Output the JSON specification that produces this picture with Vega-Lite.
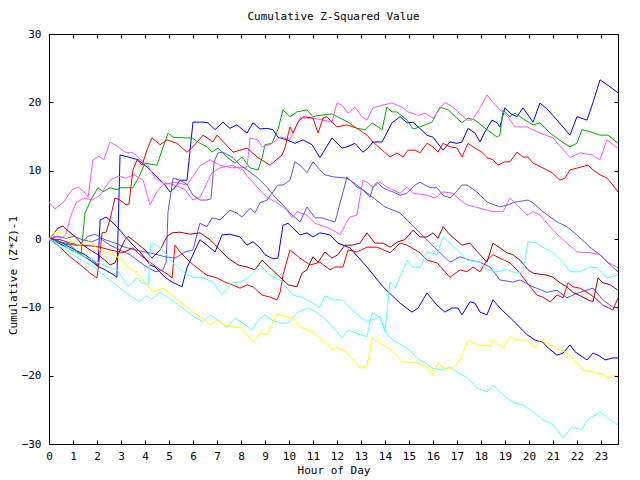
{
"$schema": "https://vega.github.io/schema/vega-lite/v6.json",
"width": 569, "height": 410,
"autosize": {"type": "none"},
"padding": {"left": 49, "top": 34, "right": 22, "bottom": 36},
"background": "white",
"title": {"text": "Cumulative Z-Squared Value", "font": "DejaVu Sans Mono", "fontSize": 11, "fontWeight": "normal", "color": "#000", "anchor": "middle", "baseline": "alphabetic", "offset": -3},
"config": {
 "view": {"stroke": "#000", "strokeWidth": 1},
 "axis": {"labelFont": "DejaVu Sans Mono", "titleFont": "DejaVu Sans Mono", "labelFontSize": 11, "titleFontSize": 11, "titleFontWeight": "normal", "labelColor": "#000", "titleColor": "#000", "tickColor": "#000", "tickWidth": 1, "grid": false, "domain": false, "labelOverlap": false, "labelFlush": false}
},
"datasets": {
 "frame": [{"h": 0, "v": 0}],
 "walks": [
{"s":"B1","h":0,"v":0},{"s":"B1","h":0.46,"v":-0.7},{"s":"B1","h":0.88,"v":-1.5},{"s":"B1","h":1.29,"v":-2.2},{"s":"B1","h":1.71,"v":-3.1},{"s":"B1","h":2.04,"v":-4.0},{"s":"B1","h":2.33,"v":-4.5},{"s":"B1","h":2.63,"v":-5.1},{"s":"B1","h":2.83,"v":-5.6},{"s":"B1","h":2.96,"v":12.3},{"s":"B1","h":3.29,"v":12.0},{"s":"B1","h":3.71,"v":11.6},{"s":"B1","h":4.13,"v":10.4},{"s":"B1","h":4.54,"v":8.9},{"s":"B1","h":4.83,"v":7.9},{"s":"B1","h":5.04,"v":6.9},{"s":"B1","h":5.25,"v":7.5},{"s":"B1","h":5.46,"v":8.6},{"s":"B1","h":5.75,"v":8.6},{"s":"B1","h":6.0,"v":17.1},{"s":"B1","h":6.42,"v":17.1},{"s":"B1","h":6.63,"v":17.0},{"s":"B1","h":6.92,"v":16.0},{"s":"B1","h":7.25,"v":17.1},{"s":"B1","h":7.54,"v":16.2},{"s":"B1","h":7.83,"v":16.7},{"s":"B1","h":8.25,"v":15.5},{"s":"B1","h":8.5,"v":17.0},{"s":"B1","h":8.79,"v":16.1},{"s":"B1","h":9.08,"v":16.2},{"s":"B1","h":9.33,"v":16.0},{"s":"B1","h":9.54,"v":14.9},{"s":"B1","h":9.92,"v":14.5},{"s":"B1","h":10.25,"v":14.0},{"s":"B1","h":10.58,"v":14.5},{"s":"B1","h":10.96,"v":13.8},{"s":"B1","h":11.29,"v":11.9},{"s":"B1","h":11.79,"v":14.8},{"s":"B1","h":12.21,"v":13.3},{"s":"B1","h":12.42,"v":13.5},{"s":"B1","h":12.75,"v":14.0},{"s":"B1","h":13.08,"v":12.7},{"s":"B1","h":13.29,"v":13.3},{"s":"B1","h":13.5,"v":14.2},{"s":"B1","h":13.88,"v":14.2},{"s":"B1","h":14.29,"v":17.0},{"s":"B1","h":14.63,"v":17.9},{"s":"B1","h":14.92,"v":17.0},{"s":"B1","h":15.17,"v":17.1},{"s":"B1","h":15.75,"v":15.2},{"s":"B1","h":16.0,"v":14.9},{"s":"B1","h":16.42,"v":13.0},{"s":"B1","h":16.71,"v":14.2},{"s":"B1","h":17.0,"v":14.0},{"s":"B1","h":17.21,"v":14.2},{"s":"B1","h":17.46,"v":16.2},{"s":"B1","h":17.75,"v":15.5},{"s":"B1","h":17.96,"v":14.2},{"s":"B1","h":18.17,"v":15.7},{"s":"B1","h":18.46,"v":17.4},{"s":"B1","h":18.67,"v":17.0},{"s":"B1","h":18.79,"v":16.4},{"s":"B1","h":19.0,"v":19.2},{"s":"B1","h":19.21,"v":18.4},{"s":"B1","h":19.5,"v":17.9},{"s":"B1","h":19.75,"v":19.2},{"s":"B1","h":20.17,"v":17.1},{"s":"B1","h":20.46,"v":19.9},{"s":"B1","h":20.79,"v":18.9},{"s":"B1","h":21.17,"v":17.4},{"s":"B1","h":21.71,"v":15.2},{"s":"B1","h":22.0,"v":17.9},{"s":"B1","h":22.42,"v":17.4},{"s":"B1","h":22.67,"v":20.0},{"s":"B1","h":22.96,"v":23.3},{"s":"B1","h":23.29,"v":22.5},{"s":"B1","h":23.71,"v":21.4},
{"s":"B2","h":0,"v":0.3},{"s":"B2","h":0.38,"v":-0.3},{"s":"B2","h":0.71,"v":-0.9},{"s":"B2","h":1.08,"v":-1.6},{"s":"B2","h":1.5,"v":-2.3},{"s":"B2","h":1.92,"v":-3.4},{"s":"B2","h":2.04,"v":-4.0},{"s":"B2","h":2.13,"v":2.8},{"s":"B2","h":2.38,"v":3.2},{"s":"B2","h":2.63,"v":2.5},{"s":"B2","h":2.88,"v":1.6},{"s":"B2","h":3.17,"v":0.4},{"s":"B2","h":3.5,"v":-0.9},{"s":"B2","h":3.79,"v":-1.9},{"s":"B2","h":4.0,"v":-2.8},{"s":"B2","h":4.21,"v":-3.8},{"s":"B2","h":4.42,"v":-4.1},{"s":"B2","h":4.83,"v":-5.6},{"s":"B2","h":5.13,"v":-6.3},{"s":"B2","h":5.54,"v":-7.0},{"s":"B2","h":5.75,"v":-4.2},{"s":"B2","h":6.29,"v":-0.1},{"s":"B2","h":6.58,"v":-0.9},{"s":"B2","h":6.92,"v":-1.9},{"s":"B2","h":7.21,"v":0.6},{"s":"B2","h":7.54,"v":0.7},{"s":"B2","h":7.96,"v":0.3},{"s":"B2","h":8.25,"v":-0.9},{"s":"B2","h":8.5,"v":-0.4},{"s":"B2","h":8.79,"v":-1.3},{"s":"B2","h":9.0,"v":-2.3},{"s":"B2","h":9.33,"v":-2.9},{"s":"B2","h":9.54,"v":-2.8},{"s":"B2","h":9.75,"v":2.0},{"s":"B2","h":9.96,"v":2.3},{"s":"B2","h":10.46,"v":0.6},{"s":"B2","h":10.75,"v":0.9},{"s":"B2","h":11.0,"v":0.3},{"s":"B2","h":11.29,"v":0.9},{"s":"B2","h":11.71,"v":0.6},{"s":"B2","h":12.04,"v":-0.6},{"s":"B2","h":12.54,"v":-1.3},{"s":"B2","h":13.25,"v":-4.1},{"s":"B2","h":13.92,"v":-7.0},{"s":"B2","h":14.63,"v":-9.4},{"s":"B2","h":15.13,"v":-10.7},{"s":"B2","h":15.38,"v":-10.1},{"s":"B2","h":15.75,"v":-7.9},{"s":"B2","h":16.17,"v":-9.7},{"s":"B2","h":16.5,"v":-10.7},{"s":"B2","h":16.79,"v":-10.1},{"s":"B2","h":17.04,"v":-10.1},{"s":"B2","h":17.21,"v":-11.1},{"s":"B2","h":17.54,"v":-9.2},{"s":"B2","h":17.75,"v":-9.4},{"s":"B2","h":17.96,"v":-10.7},{"s":"B2","h":18.25,"v":-11.1},{"s":"B2","h":18.5,"v":-8.9},{"s":"B2","h":18.79,"v":-10.1},{"s":"B2","h":19.33,"v":-11.9},{"s":"B2","h":19.92,"v":-14.0},{"s":"B2","h":20.25,"v":-14.8},{"s":"B2","h":20.58,"v":-15.1},{"s":"B2","h":20.75,"v":-15.8},{"s":"B2","h":21.17,"v":-17.0},{"s":"B2","h":21.42,"v":-16.7},{"s":"B2","h":21.71,"v":-15.5},{"s":"B2","h":21.92,"v":-16.5},{"s":"B2","h":22.42,"v":-17.7},{"s":"B2","h":22.67,"v":-16.7},{"s":"B2","h":22.88,"v":-17.0},{"s":"B2","h":23.17,"v":-17.7},{"s":"B2","h":23.5,"v":-17.4},{"s":"B2","h":23.71,"v":-17.4},
{"s":"G","h":0,"v":0},{"s":"G","h":0.25,"v":-0.3},{"s":"G","h":0.54,"v":-0.6},{"s":"G","h":0.88,"v":-0.9},{"s":"G","h":1.21,"v":-1.9},{"s":"G","h":1.33,"v":-2.3},{"s":"G","h":1.5,"v":3.8},{"s":"G","h":1.79,"v":6.0},{"s":"G","h":2.04,"v":7.5},{"s":"G","h":2.25,"v":6.9},{"s":"G","h":2.54,"v":7.5},{"s":"G","h":2.83,"v":7.2},{"s":"G","h":2.96,"v":7.5},{"s":"G","h":3.5,"v":7.5},{"s":"G","h":3.79,"v":9.4},{"s":"G","h":4.0,"v":11.1},{"s":"G","h":4.5,"v":10.8},{"s":"G","h":4.71,"v":13.0},{"s":"G","h":4.96,"v":15.5},{"s":"G","h":5.17,"v":14.9},{"s":"G","h":5.67,"v":14.8},{"s":"G","h":5.96,"v":14.8},{"s":"G","h":6.29,"v":14.0},{"s":"G","h":6.58,"v":13.5},{"s":"G","h":6.79,"v":12.7},{"s":"G","h":7.04,"v":13.3},{"s":"G","h":7.42,"v":12.0},{"s":"G","h":7.75,"v":11.1},{"s":"G","h":8.04,"v":12.0},{"s":"G","h":8.38,"v":10.4},{"s":"G","h":8.71,"v":10.1},{"s":"G","h":8.88,"v":11.9},{"s":"G","h":9.0,"v":13.8},{"s":"G","h":9.29,"v":14.0},{"s":"G","h":9.54,"v":16.0},{"s":"G","h":9.75,"v":18.9},{"s":"G","h":10.04,"v":17.9},{"s":"G","h":10.33,"v":18.6},{"s":"G","h":10.75,"v":18.9},{"s":"G","h":11.0,"v":17.9},{"s":"G","h":11.29,"v":18.1},{"s":"G","h":11.79,"v":18.3},{"s":"G","h":12.13,"v":17.7},{"s":"G","h":12.46,"v":17.1},{"s":"G","h":12.83,"v":16.2},{"s":"G","h":13.17,"v":16.0},{"s":"G","h":13.46,"v":17.0},{"s":"G","h":13.88,"v":16.0},{"s":"G","h":14.08,"v":19.3},{"s":"G","h":14.29,"v":18.6},{"s":"G","h":14.5,"v":18.6},{"s":"G","h":14.92,"v":17.4},{"s":"G","h":15.17,"v":16.1},{"s":"G","h":15.46,"v":16.4},{"s":"G","h":15.96,"v":17.1},{"s":"G","h":16.29,"v":19.3},{"s":"G","h":16.63,"v":18.9},{"s":"G","h":17.21,"v":17.0},{"s":"G","h":17.46,"v":17.7},{"s":"G","h":17.75,"v":17.4},{"s":"G","h":18.25,"v":16.0},{"s":"G","h":18.67,"v":14.9},{"s":"G","h":18.79,"v":15.2},{"s":"G","h":18.92,"v":18.9},{"s":"G","h":19.21,"v":17.9},{"s":"G","h":19.42,"v":18.4},{"s":"G","h":19.71,"v":17.7},{"s":"G","h":20.17,"v":16.7},{"s":"G","h":20.46,"v":17.0},{"s":"G","h":20.88,"v":15.5},{"s":"G","h":21.38,"v":14.2},{"s":"G","h":21.71,"v":13.5},{"s":"G","h":22.0,"v":14.0},{"s":"G","h":22.21,"v":16.0},{"s":"G","h":22.54,"v":15.7},{"s":"G","h":22.96,"v":15.2},{"s":"G","h":23.29,"v":15.2},{"s":"G","h":23.71,"v":14.0},
{"s":"M1","h":0,"v":5.4},{"s":"M1","h":0.25,"v":4.4},{"s":"M1","h":0.58,"v":5.3},{"s":"M1","h":0.96,"v":7.2},{"s":"M1","h":1.21,"v":7.6},{"s":"M1","h":1.46,"v":6.9},{"s":"M1","h":1.63,"v":6.1},{"s":"M1","h":1.83,"v":11.6},{"s":"M1","h":2.08,"v":12.1},{"s":"M1","h":2.29,"v":11.6},{"s":"M1","h":2.54,"v":14.2},{"s":"M1","h":2.88,"v":13.5},{"s":"M1","h":3.17,"v":12.7},{"s":"M1","h":3.5,"v":12.6},{"s":"M1","h":3.83,"v":11.6},{"s":"M1","h":4.13,"v":10.7},{"s":"M1","h":4.42,"v":8.9},{"s":"M1","h":4.83,"v":8.0},{"s":"M1","h":5.25,"v":8.3},{"s":"M1","h":5.75,"v":7.9},{"s":"M1","h":6.29,"v":10.7},{"s":"M1","h":6.71,"v":11.6},{"s":"M1","h":7.13,"v":10.8},{"s":"M1","h":7.63,"v":10.4},{"s":"M1","h":7.96,"v":10.5},{"s":"M1","h":8.25,"v":10.5},{"s":"M1","h":8.38,"v":14.8},{"s":"M1","h":8.71,"v":14.5},{"s":"M1","h":8.88,"v":13.5},{"s":"M1","h":9.21,"v":13.8},{"s":"M1","h":9.63,"v":14.9},{"s":"M1","h":10.04,"v":14.6},{"s":"M1","h":10.46,"v":17.7},{"s":"M1","h":11.0,"v":17.7},{"s":"M1","h":11.42,"v":17.4},{"s":"M1","h":11.79,"v":17.1},{"s":"M1","h":12.0,"v":19.9},{"s":"M1","h":12.21,"v":19.6},{"s":"M1","h":12.46,"v":18.4},{"s":"M1","h":12.75,"v":19.3},{"s":"M1","h":13.04,"v":17.9},{"s":"M1","h":13.25,"v":17.4},{"s":"M1","h":13.5,"v":19.2},{"s":"M1","h":13.92,"v":19.6},{"s":"M1","h":14.29,"v":19.9},{"s":"M1","h":14.71,"v":19.3},{"s":"M1","h":14.96,"v":18.6},{"s":"M1","h":15.38,"v":18.1},{"s":"M1","h":15.67,"v":18.4},{"s":"M1","h":16.0,"v":17.7},{"s":"M1","h":16.5,"v":20.0},{"s":"M1","h":16.83,"v":19.3},{"s":"M1","h":17.42,"v":17.4},{"s":"M1","h":17.63,"v":17.4},{"s":"M1","h":18.04,"v":19.6},{"s":"M1","h":18.25,"v":21.1},{"s":"M1","h":18.5,"v":20.0},{"s":"M1","h":18.79,"v":18.9},{"s":"M1","h":19.08,"v":18.1},{"s":"M1","h":19.42,"v":16.4},{"s":"M1","h":19.92,"v":16.4},{"s":"M1","h":20.46,"v":15.5},{"s":"M1","h":21.0,"v":14.8},{"s":"M1","h":21.71,"v":11.9},{"s":"M1","h":22.13,"v":12.6},{"s":"M1","h":22.63,"v":12.3},{"s":"M1","h":22.96,"v":11.6},{"s":"M1","h":23.25,"v":14.5},{"s":"M1","h":23.5,"v":13.8},{"s":"M1","h":23.71,"v":13.3},
{"s":"M2","h":0,"v":0},{"s":"M2","h":0.25,"v":0.4},{"s":"M2","h":0.54,"v":0.1},{"s":"M2","h":0.71,"v":0.7},{"s":"M2","h":0.88,"v":3.1},{"s":"M2","h":1.13,"v":5.3},{"s":"M2","h":1.46,"v":6.0},{"s":"M2","h":1.79,"v":5.7},{"s":"M2","h":2.13,"v":6.4},{"s":"M2","h":2.54,"v":8.6},{"s":"M2","h":2.88,"v":9.2},{"s":"M2","h":3.21,"v":8.9},{"s":"M2","h":3.54,"v":9.4},{"s":"M2","h":3.92,"v":8.6},{"s":"M2","h":4.21,"v":5.0},{"s":"M2","h":4.54,"v":7.2},{"s":"M2","h":4.83,"v":8.2},{"s":"M2","h":5.25,"v":7.9},{"s":"M2","h":5.67,"v":7.2},{"s":"M2","h":6.0,"v":5.7},{"s":"M2","h":6.29,"v":6.1},{"s":"M2","h":6.54,"v":7.9},{"s":"M2","h":6.79,"v":9.7},{"s":"M2","h":7.13,"v":10.4},{"s":"M2","h":7.63,"v":10.8},{"s":"M2","h":8.08,"v":10.1},{"s":"M2","h":8.29,"v":9.1},{"s":"M2","h":8.67,"v":7.6},{"s":"M2","h":9.08,"v":6.1},{"s":"M2","h":9.5,"v":5.3},{"s":"M2","h":9.92,"v":4.2},{"s":"M2","h":10.13,"v":3.1},{"s":"M2","h":10.33,"v":4.0},{"s":"M2","h":10.75,"v":3.5},{"s":"M2","h":11.08,"v":2.3},{"s":"M2","h":11.5,"v":1.8},{"s":"M2","h":11.83,"v":1.3},{"s":"M2","h":12.13,"v":0.6},{"s":"M2","h":12.33,"v":2.0},{"s":"M2","h":12.54,"v":3.2},{"s":"M2","h":12.83,"v":3.5},{"s":"M2","h":13.08,"v":8.6},{"s":"M2","h":13.25,"v":8.3},{"s":"M2","h":13.5,"v":7.6},{"s":"M2","h":13.79,"v":8.3},{"s":"M2","h":14.08,"v":7.6},{"s":"M2","h":14.33,"v":7.2},{"s":"M2","h":14.63,"v":6.7},{"s":"M2","h":14.92,"v":7.6},{"s":"M2","h":15.17,"v":6.7},{"s":"M2","h":15.75,"v":6.4},{"s":"M2","h":16.08,"v":6.0},{"s":"M2","h":16.42,"v":6.9},{"s":"M2","h":16.83,"v":6.7},{"s":"M2","h":17.13,"v":5.7},{"s":"M2","h":17.42,"v":5.0},{"s":"M2","h":17.96,"v":4.5},{"s":"M2","h":18.5,"v":4.0},{"s":"M2","h":18.92,"v":4.0},{"s":"M2","h":19.21,"v":6.0},{"s":"M2","h":19.5,"v":5.0},{"s":"M2","h":19.92,"v":3.5},{"s":"M2","h":20.17,"v":4.0},{"s":"M2","h":20.46,"v":3.5},{"s":"M2","h":21.0,"v":1.3},{"s":"M2","h":21.58,"v":-0.6},{"s":"M2","h":22.0,"v":-1.9},{"s":"M2","h":22.54,"v":-2.0},{"s":"M2","h":22.96,"v":-2.3},{"s":"M2","h":23.29,"v":-3.4},{"s":"M2","h":23.71,"v":-4.2},
{"s":"S1","h":0,"v":0},{"s":"S1","h":0.38,"v":0.4},{"s":"S1","h":0.71,"v":0.1},{"s":"S1","h":1.04,"v":0.4},{"s":"S1","h":1.38,"v":-0.1},{"s":"S1","h":1.79,"v":-0.4},{"s":"S1","h":2.13,"v":0.1},{"s":"S1","h":2.54,"v":-0.9},{"s":"S1","h":2.96,"v":-1.6},{"s":"S1","h":3.38,"v":-2.3},{"s":"S1","h":3.79,"v":-3.4},{"s":"S1","h":4.13,"v":-4.2},{"s":"S1","h":4.46,"v":-4.8},{"s":"S1","h":4.75,"v":-4.5},{"s":"S1","h":4.88,"v":-3.4},{"s":"S1","h":4.96,"v":4.0},{"s":"S1","h":5.17,"v":8.9},{"s":"S1","h":5.46,"v":8.6},{"s":"S1","h":5.75,"v":8.0},{"s":"S1","h":6.0,"v":6.4},{"s":"S1","h":6.29,"v":5.7},{"s":"S1","h":6.58,"v":5.7},{"s":"S1","h":6.75,"v":5.9},{"s":"S1","h":6.88,"v":11.3},{"s":"S1","h":7.04,"v":12.6},{"s":"S1","h":7.25,"v":12.7},{"s":"S1","h":7.67,"v":11.9},{"s":"S1","h":7.96,"v":10.8},{"s":"S1","h":8.38,"v":9.8},{"s":"S1","h":8.71,"v":8.9},{"s":"S1","h":9.08,"v":7.6},{"s":"S1","h":9.42,"v":6.1},{"s":"S1","h":9.75,"v":5.0},{"s":"S1","h":10.04,"v":3.8},{"s":"S1","h":10.46,"v":2.5},{"s":"S1","h":10.75,"v":4.7},{"s":"S1","h":11.08,"v":3.1},{"s":"S1","h":11.38,"v":3.1},{"s":"S1","h":11.63,"v":2.8},{"s":"S1","h":11.92,"v":2.5},{"s":"S1","h":12.42,"v":9.1},{"s":"S1","h":12.83,"v":7.6},{"s":"S1","h":13.08,"v":7.2},{"s":"S1","h":13.38,"v":6.1},{"s":"S1","h":13.5,"v":7.6},{"s":"S1","h":13.67,"v":8.3},{"s":"S1","h":13.88,"v":7.6},{"s":"S1","h":14.08,"v":7.2},{"s":"S1","h":14.33,"v":6.9},{"s":"S1","h":14.63,"v":6.4},{"s":"S1","h":14.92,"v":6.7},{"s":"S1","h":15.25,"v":7.9},{"s":"S1","h":15.46,"v":8.3},{"s":"S1","h":15.88,"v":7.5},{"s":"S1","h":16.17,"v":7.5},{"s":"S1","h":16.42,"v":6.4},{"s":"S1","h":16.71,"v":6.0},{"s":"S1","h":16.92,"v":6.7},{"s":"S1","h":17.21,"v":7.9},{"s":"S1","h":17.42,"v":7.9},{"s":"S1","h":17.83,"v":6.9},{"s":"S1","h":18.25,"v":5.4},{"s":"S1","h":18.79,"v":4.7},{"s":"S1","h":19.13,"v":5.0},{"s":"S1","h":19.42,"v":5.4},{"s":"S1","h":19.96,"v":5.7},{"s":"S1","h":20.17,"v":5.3},{"s":"S1","h":20.58,"v":4.0},{"s":"S1","h":21.17,"v":2.5},{"s":"S1","h":21.58,"v":1.8},{"s":"S1","h":22.0,"v":0.6},{"s":"S1","h":22.54,"v":-1.2},{"s":"S1","h":22.96,"v":-2.3},{"s":"S1","h":23.29,"v":-3.5},{"s":"S1","h":23.71,"v":-4.8},
{"s":"S3","h":0,"v":0},{"s":"S3","h":0.38,"v":-0.3},{"s":"S3","h":0.79,"v":-0.7},{"s":"S3","h":1.21,"v":-1.0},{"s":"S3","h":1.63,"v":0.4},{"s":"S3","h":1.92,"v":0.7},{"s":"S3","h":2.33,"v":-0.1},{"s":"S3","h":2.75,"v":-0.6},{"s":"S3","h":3.17,"v":-1.2},{"s":"S3","h":3.58,"v":-1.6},{"s":"S3","h":4.0,"v":-1.9},{"s":"S3","h":4.42,"v":-2.2},{"s":"S3","h":4.83,"v":-2.6},{"s":"S3","h":5.25,"v":-2.8},{"s":"S3","h":5.67,"v":-1.9},{"s":"S3","h":6.0,"v":-1.6},{"s":"S3","h":6.29,"v":2.3},{"s":"S3","h":6.58,"v":1.8},{"s":"S3","h":6.79,"v":3.1},{"s":"S3","h":7.13,"v":2.8},{"s":"S3","h":7.54,"v":4.2},{"s":"S3","h":7.83,"v":3.8},{"s":"S3","h":8.04,"v":3.2},{"s":"S3","h":8.38,"v":4.5},{"s":"S3","h":8.58,"v":3.8},{"s":"S3","h":8.79,"v":5.3},{"s":"S3","h":9.08,"v":5.7},{"s":"S3","h":9.29,"v":6.7},{"s":"S3","h":9.54,"v":7.9},{"s":"S3","h":9.75,"v":7.9},{"s":"S3","h":10.04,"v":8.6},{"s":"S3","h":10.25,"v":11.3},{"s":"S3","h":10.46,"v":10.8},{"s":"S3","h":10.75,"v":9.7},{"s":"S3","h":11.0,"v":11.3},{"s":"S3","h":11.29,"v":10.1},{"s":"S3","h":11.5,"v":9.4},{"s":"S3","h":11.83,"v":9.1},{"s":"S3","h":12.42,"v":8.9},{"s":"S3","h":12.83,"v":7.9},{"s":"S3","h":13.38,"v":6.4},{"s":"S3","h":14.0,"v":4.7},{"s":"S3","h":14.63,"v":3.8},{"s":"S3","h":15.17,"v":1.9},{"s":"S3","h":15.46,"v":0.9},{"s":"S3","h":16.17,"v":-1.6},{"s":"S3","h":16.71,"v":-3.4},{"s":"S3","h":17.13,"v":-2.6},{"s":"S3","h":17.54,"v":-3.1},{"s":"S3","h":17.96,"v":-3.4},{"s":"S3","h":18.38,"v":-4.1},{"s":"S3","h":18.79,"v":-6.0},{"s":"S3","h":19.33,"v":-6.3},{"s":"S3","h":19.63,"v":-6.0},{"s":"S3","h":20.17,"v":-7.0},{"s":"S3","h":20.75,"v":-7.8},{"s":"S3","h":21.17,"v":-7.5},{"s":"S3","h":21.58,"v":-8.6},{"s":"S3","h":21.83,"v":-8.2},{"s":"S3","h":22.13,"v":-7.8},{"s":"S3","h":22.67,"v":-7.2},{"s":"S3","h":23.08,"v":-8.9},{"s":"S3","h":23.5,"v":-10.0},{"s":"S3","h":23.71,"v":-10.1},
{"s":"R1","h":0,"v":0},{"s":"R1","h":0.25,"v":-0.6},{"s":"R1","h":0.46,"v":-1.2},{"s":"R1","h":0.88,"v":-2.6},{"s":"R1","h":1.42,"v":-4.1},{"s":"R1","h":1.71,"v":-5.0},{"s":"R1","h":2.0,"v":-5.7},{"s":"R1","h":2.13,"v":-2.0},{"s":"R1","h":2.21,"v":0.9},{"s":"R1","h":2.38,"v":1.0},{"s":"R1","h":2.54,"v":2.8},{"s":"R1","h":2.75,"v":6.0},{"s":"R1","h":2.96,"v":5.7},{"s":"R1","h":3.21,"v":5.0},{"s":"R1","h":3.33,"v":5.1},{"s":"R1","h":3.5,"v":10.1},{"s":"R1","h":3.67,"v":11.6},{"s":"R1","h":3.88,"v":10.8},{"s":"R1","h":4.08,"v":13.0},{"s":"R1","h":4.29,"v":14.8},{"s":"R1","h":4.63,"v":13.8},{"s":"R1","h":4.92,"v":14.5},{"s":"R1","h":5.33,"v":14.0},{"s":"R1","h":5.75,"v":12.7},{"s":"R1","h":6.0,"v":13.5},{"s":"R1","h":6.42,"v":15.2},{"s":"R1","h":6.83,"v":14.2},{"s":"R1","h":7.0,"v":15.2},{"s":"R1","h":7.67,"v":12.7},{"s":"R1","h":8.25,"v":13.3},{"s":"R1","h":8.71,"v":11.9},{"s":"R1","h":9.21,"v":10.8},{"s":"R1","h":9.71,"v":12.3},{"s":"R1","h":9.83,"v":13.3},{"s":"R1","h":10.04,"v":16.4},{"s":"R1","h":10.17,"v":15.5},{"s":"R1","h":10.38,"v":17.1},{"s":"R1","h":10.58,"v":17.9},{"s":"R1","h":11.0,"v":17.7},{"s":"R1","h":11.21,"v":15.5},{"s":"R1","h":11.42,"v":17.7},{"s":"R1","h":11.58,"v":17.9},{"s":"R1","h":11.79,"v":17.1},{"s":"R1","h":12.0,"v":16.4},{"s":"R1","h":12.42,"v":16.7},{"s":"R1","h":12.83,"v":16.2},{"s":"R1","h":13.25,"v":15.2},{"s":"R1","h":13.5,"v":14.2},{"s":"R1","h":13.79,"v":13.3},{"s":"R1","h":14.21,"v":12.0},{"s":"R1","h":14.5,"v":12.6},{"s":"R1","h":14.75,"v":12.0},{"s":"R1","h":14.96,"v":13.0},{"s":"R1","h":15.25,"v":13.0},{"s":"R1","h":15.46,"v":12.6},{"s":"R1","h":15.75,"v":14.0},{"s":"R1","h":16.0,"v":13.5},{"s":"R1","h":16.21,"v":12.7},{"s":"R1","h":16.42,"v":14.0},{"s":"R1","h":16.71,"v":13.5},{"s":"R1","h":17.0,"v":13.3},{"s":"R1","h":17.21,"v":12.0},{"s":"R1","h":17.46,"v":14.0},{"s":"R1","h":17.75,"v":13.3},{"s":"R1","h":18.04,"v":12.7},{"s":"R1","h":18.25,"v":11.9},{"s":"R1","h":18.5,"v":11.6},{"s":"R1","h":18.71,"v":10.8},{"s":"R1","h":19.0,"v":11.3},{"s":"R1","h":19.21,"v":11.3},{"s":"R1","h":19.5,"v":12.7},{"s":"R1","h":19.75,"v":12.0},{"s":"R1","h":19.96,"v":12.0},{"s":"R1","h":20.17,"v":11.1},{"s":"R1","h":20.58,"v":10.4},{"s":"R1","h":20.96,"v":9.7},{"s":"R1","h":21.29,"v":8.6},{"s":"R1","h":21.5,"v":8.9},{"s":"R1","h":21.71,"v":10.1},{"s":"R1","h":22.13,"v":10.5},{"s":"R1","h":22.46,"v":10.8},{"s":"R1","h":22.67,"v":10.1},{"s":"R1","h":22.96,"v":9.4},{"s":"R1","h":23.25,"v":8.9},{"s":"R1","h":23.5,"v":7.9},{"s":"R1","h":23.71,"v":6.9},
{"s":"R2","h":0,"v":0},{"s":"R2","h":0.46,"v":-0.1},{"s":"R2","h":0.88,"v":-0.6},{"s":"R2","h":1.29,"v":-0.9},{"s":"R2","h":1.71,"v":-1.0},{"s":"R2","h":2.13,"v":-1.2},{"s":"R2","h":2.54,"v":-1.6},{"s":"R2","h":3.08,"v":-2.0},{"s":"R2","h":3.5,"v":-1.3},{"s":"R2","h":3.79,"v":-2.3},{"s":"R2","h":4.21,"v":-3.4},{"s":"R2","h":4.63,"v":-4.5},{"s":"R2","h":4.92,"v":-5.1},{"s":"R2","h":5.13,"v":-5.7},{"s":"R2","h":5.25,"v":-0.9},{"s":"R2","h":5.46,"v":-1.9},{"s":"R2","h":5.88,"v":-3.4},{"s":"R2","h":6.17,"v":-4.2},{"s":"R2","h":6.58,"v":-5.3},{"s":"R2","h":7.0,"v":-5.7},{"s":"R2","h":7.33,"v":-6.3},{"s":"R2","h":7.63,"v":-6.7},{"s":"R2","h":7.96,"v":-7.2},{"s":"R2","h":8.25,"v":-6.7},{"s":"R2","h":8.5,"v":-7.0},{"s":"R2","h":8.88,"v":-8.2},{"s":"R2","h":9.21,"v":-8.5},{"s":"R2","h":9.5,"v":-8.9},{"s":"R2","h":9.63,"v":-7.8},{"s":"R2","h":9.75,"v":-5.3},{"s":"R2","h":10.04,"v":-1.6},{"s":"R2","h":10.46,"v":-2.8},{"s":"R2","h":10.88,"v":-3.8},{"s":"R2","h":11.29,"v":-3.4},{"s":"R2","h":11.71,"v":-4.5},{"s":"R2","h":11.92,"v":-4.1},{"s":"R2","h":12.25,"v":-4.1},{"s":"R2","h":12.46,"v":-1.6},{"s":"R2","h":12.83,"v":-1.9},{"s":"R2","h":13.25,"v":-1.2},{"s":"R2","h":13.67,"v":-1.2},{"s":"R2","h":14.21,"v":-2.0},{"s":"R2","h":14.63,"v":-0.6},{"s":"R2","h":14.92,"v":-0.9},{"s":"R2","h":15.46,"v":-2.0},{"s":"R2","h":15.75,"v":-3.1},{"s":"R2","h":16.17,"v":-3.5},{"s":"R2","h":16.71,"v":-5.6},{"s":"R2","h":17.13,"v":-4.5},{"s":"R2","h":17.42,"v":-4.8},{"s":"R2","h":17.67,"v":-4.1},{"s":"R2","h":17.96,"v":-4.8},{"s":"R2","h":18.25,"v":-3.1},{"s":"R2","h":18.5,"v":-2.3},{"s":"R2","h":18.79,"v":-2.8},{"s":"R2","h":19.21,"v":-3.5},{"s":"R2","h":19.63,"v":-5.0},{"s":"R2","h":19.92,"v":-6.4},{"s":"R2","h":20.33,"v":-8.2},{"s":"R2","h":20.58,"v":-8.5},{"s":"R2","h":20.88,"v":-9.2},{"s":"R2","h":21.17,"v":-8.2},{"s":"R2","h":21.42,"v":-8.6},{"s":"R2","h":21.63,"v":-6.4},{"s":"R2","h":21.83,"v":-7.0},{"s":"R2","h":22.13,"v":-7.2},{"s":"R2","h":22.42,"v":-7.8},{"s":"R2","h":22.75,"v":-8.6},{"s":"R2","h":23.08,"v":-9.7},{"s":"R2","h":23.5,"v":-10.4},{"s":"R2","h":23.71,"v":-8.6},
{"s":"D1","h":0,"v":0},{"s":"D1","h":0.25,"v":1.0},{"s":"D1","h":0.38,"v":1.6},{"s":"D1","h":0.58,"v":1.9},{"s":"D1","h":0.75,"v":1.3},{"s":"D1","h":1.08,"v":0.4},{"s":"D1","h":1.42,"v":-0.9},{"s":"D1","h":1.71,"v":-1.6},{"s":"D1","h":2.04,"v":-2.3},{"s":"D1","h":2.33,"v":-3.1},{"s":"D1","h":2.54,"v":-3.8},{"s":"D1","h":2.75,"v":-3.5},{"s":"D1","h":2.96,"v":-1.6},{"s":"D1","h":3.17,"v":-0.1},{"s":"D1","h":3.29,"v":0.4},{"s":"D1","h":3.58,"v":-0.4},{"s":"D1","h":4.0,"v":-1.6},{"s":"D1","h":4.29,"v":-2.8},{"s":"D1","h":4.63,"v":-1.6},{"s":"D1","h":4.92,"v":0.4},{"s":"D1","h":5.13,"v":0.9},{"s":"D1","h":5.46,"v":1.0},{"s":"D1","h":5.88,"v":0.7},{"s":"D1","h":6.29,"v":0.9},{"s":"D1","h":6.71,"v":-0.1},{"s":"D1","h":7.13,"v":-1.6},{"s":"D1","h":7.46,"v":-2.8},{"s":"D1","h":7.88,"v":-3.8},{"s":"D1","h":8.25,"v":-4.1},{"s":"D1","h":8.58,"v":-4.5},{"s":"D1","h":8.88,"v":-3.1},{"s":"D1","h":9.21,"v":-4.2},{"s":"D1","h":9.63,"v":-5.6},{"s":"D1","h":9.96,"v":-6.7},{"s":"D1","h":10.33,"v":-7.0},{"s":"D1","h":10.54,"v":-5.0},{"s":"D1","h":10.75,"v":-4.5},{"s":"D1","h":11.0,"v":-2.6},{"s":"D1","h":11.21,"v":-3.4},{"s":"D1","h":11.5,"v":-1.9},{"s":"D1","h":11.79,"v":-2.8},{"s":"D1","h":12.04,"v":-2.3},{"s":"D1","h":12.33,"v":-0.9},{"s":"D1","h":12.63,"v":-0.9},{"s":"D1","h":12.96,"v":-0.6},{"s":"D1","h":13.25,"v":0.9},{"s":"D1","h":13.58,"v":-0.6},{"s":"D1","h":13.92,"v":-0.6},{"s":"D1","h":14.21,"v":-1.2},{"s":"D1","h":14.54,"v":-0.4},{"s":"D1","h":14.83,"v":-0.1},{"s":"D1","h":15.17,"v":1.3},{"s":"D1","h":15.46,"v":0.3},{"s":"D1","h":15.75,"v":0.3},{"s":"D1","h":16.0,"v":0.9},{"s":"D1","h":16.21,"v":0.1},{"s":"D1","h":16.42,"v":1.8},{"s":"D1","h":16.71,"v":0.6},{"s":"D1","h":17.21,"v":-0.9},{"s":"D1","h":17.54,"v":-0.6},{"s":"D1","h":17.96,"v":-2.3},{"s":"D1","h":18.25,"v":-3.4},{"s":"D1","h":18.5,"v":-0.6},{"s":"D1","h":18.79,"v":-1.3},{"s":"D1","h":19.08,"v":-2.0},{"s":"D1","h":19.33,"v":-2.3},{"s":"D1","h":19.63,"v":-3.1},{"s":"D1","h":19.96,"v":-4.5},{"s":"D1","h":20.17,"v":-5.0},{"s":"D1","h":20.75,"v":-5.3},{"s":"D1","h":21.0,"v":-5.6},{"s":"D1","h":21.29,"v":-6.4},{"s":"D1","h":21.58,"v":-7.0},{"s":"D1","h":21.83,"v":-7.8},{"s":"D1","h":22.13,"v":-8.3},{"s":"D1","h":22.46,"v":-8.9},{"s":"D1","h":22.67,"v":-9.2},{"s":"D1","h":22.88,"v":-5.7},{"s":"D1","h":23.08,"v":-6.4},{"s":"D1","h":23.38,"v":-6.7},{"s":"D1","h":23.71,"v":-7.5},
{"s":"C1","h":0,"v":0},{"s":"C1","h":0.25,"v":-0.4},{"s":"C1","h":0.46,"v":-0.9},{"s":"C1","h":0.96,"v":-1.6},{"s":"C1","h":1.29,"v":-2.3},{"s":"C1","h":1.83,"v":-3.1},{"s":"C1","h":2.46,"v":-4.1},{"s":"C1","h":2.83,"v":-4.5},{"s":"C1","h":3.29,"v":-7.0},{"s":"C1","h":3.67,"v":-5.7},{"s":"C1","h":3.88,"v":-6.4},{"s":"C1","h":4.13,"v":-6.7},{"s":"C1","h":4.25,"v":-0.6},{"s":"C1","h":4.5,"v":-0.9},{"s":"C1","h":4.83,"v":-2.0},{"s":"C1","h":5.17,"v":-3.5},{"s":"C1","h":5.58,"v":-4.8},{"s":"C1","h":6.0,"v":-5.6},{"s":"C1","h":6.42,"v":-5.7},{"s":"C1","h":6.83,"v":-6.3},{"s":"C1","h":7.21,"v":-8.2},{"s":"C1","h":7.63,"v":-6.4},{"s":"C1","h":7.96,"v":-6.3},{"s":"C1","h":8.29,"v":-5.7},{"s":"C1","h":8.79,"v":-3.8},{"s":"C1","h":9.21,"v":-5.3},{"s":"C1","h":9.63,"v":-6.0},{"s":"C1","h":10.17,"v":-8.2},{"s":"C1","h":10.58,"v":-8.6},{"s":"C1","h":11.0,"v":-9.4},{"s":"C1","h":11.29,"v":-10.0},{"s":"C1","h":11.5,"v":-8.3},{"s":"C1","h":11.83,"v":-8.9},{"s":"C1","h":12.21,"v":-8.9},{"s":"C1","h":12.54,"v":-10.0},{"s":"C1","h":12.96,"v":-11.4},{"s":"C1","h":13.25,"v":-12.1},{"s":"C1","h":13.79,"v":-11.4},{"s":"C1","h":14.0,"v":-13.6},{"s":"C1","h":14.21,"v":-6.3},{"s":"C1","h":14.42,"v":-7.2},{"s":"C1","h":14.92,"v":-3.1},{"s":"C1","h":15.13,"v":-4.1},{"s":"C1","h":15.46,"v":-4.2},{"s":"C1","h":15.75,"v":-1.9},{"s":"C1","h":16.17,"v":-2.3},{"s":"C1","h":16.42,"v":0.3},{"s":"C1","h":16.71,"v":-0.6},{"s":"C1","h":17.13,"v":-2.0},{"s":"C1","h":17.42,"v":-3.1},{"s":"C1","h":17.96,"v":-3.4},{"s":"C1","h":18.25,"v":-4.5},{"s":"C1","h":18.67,"v":-4.8},{"s":"C1","h":19.08,"v":-4.5},{"s":"C1","h":19.5,"v":-5.0},{"s":"C1","h":19.75,"v":-4.8},{"s":"C1","h":19.96,"v":-0.4},{"s":"C1","h":20.33,"v":-0.6},{"s":"C1","h":20.58,"v":-1.2},{"s":"C1","h":21.0,"v":-2.0},{"s":"C1","h":21.42,"v":-3.4},{"s":"C1","h":21.71,"v":-4.8},{"s":"C1","h":22.13,"v":-4.8},{"s":"C1","h":22.54,"v":-4.1},{"s":"C1","h":22.83,"v":-4.2},{"s":"C1","h":23.25,"v":-5.7},{"s":"C1","h":23.71,"v":-5.3},
{"s":"C2","h":0,"v":-0.1},{"s":"C2","h":0.38,"v":-1.0},{"s":"C2","h":0.71,"v":-1.6},{"s":"C2","h":1.08,"v":-2.5},{"s":"C2","h":1.5,"v":-3.4},{"s":"C2","h":1.92,"v":-4.2},{"s":"C2","h":2.33,"v":-5.4},{"s":"C2","h":2.75,"v":-6.6},{"s":"C2","h":3.17,"v":-7.8},{"s":"C2","h":3.5,"v":-8.6},{"s":"C2","h":3.79,"v":-9.2},{"s":"C2","h":4.04,"v":-8.3},{"s":"C2","h":4.29,"v":-8.8},{"s":"C2","h":4.63,"v":-7.8},{"s":"C2","h":4.96,"v":-8.6},{"s":"C2","h":5.33,"v":-9.5},{"s":"C2","h":5.67,"v":-10.4},{"s":"C2","h":6.0,"v":-11.3},{"s":"C2","h":6.42,"v":-12.1},{"s":"C2","h":6.71,"v":-11.1},{"s":"C2","h":7.04,"v":-11.9},{"s":"C2","h":7.42,"v":-12.9},{"s":"C2","h":7.75,"v":-11.6},{"s":"C2","h":8.08,"v":-12.3},{"s":"C2","h":8.46,"v":-13.3},{"s":"C2","h":8.71,"v":-11.9},{"s":"C2","h":9.0,"v":-11.1},{"s":"C2","h":9.29,"v":-11.9},{"s":"C2","h":9.63,"v":-12.3},{"s":"C2","h":9.96,"v":-12.3},{"s":"C2","h":10.33,"v":-10.8},{"s":"C2","h":10.75,"v":-10.1},{"s":"C2","h":11.0,"v":-10.4},{"s":"C2","h":11.42,"v":-11.4},{"s":"C2","h":11.83,"v":-12.9},{"s":"C2","h":12.21,"v":-14.5},{"s":"C2","h":12.46,"v":-13.3},{"s":"C2","h":12.96,"v":-14.0},{"s":"C2","h":13.25,"v":-14.3},{"s":"C2","h":13.46,"v":-10.8},{"s":"C2","h":13.79,"v":-11.4},{"s":"C2","h":14.08,"v":-13.8},{"s":"C2","h":14.33,"v":-14.8},{"s":"C2","h":14.92,"v":-16.0},{"s":"C2","h":15.46,"v":-17.7},{"s":"C2","h":16.0,"v":-18.9},{"s":"C2","h":16.42,"v":-19.2},{"s":"C2","h":16.71,"v":-18.7},{"s":"C2","h":17.0,"v":-19.5},{"s":"C2","h":17.42,"v":-20.3},{"s":"C2","h":17.83,"v":-21.8},{"s":"C2","h":18.25,"v":-22.4},{"s":"C2","h":18.5,"v":-21.4},{"s":"C2","h":18.92,"v":-22.8},{"s":"C2","h":19.33,"v":-23.9},{"s":"C2","h":19.75,"v":-24.3},{"s":"C2","h":20.17,"v":-25.3},{"s":"C2","h":20.58,"v":-26.5},{"s":"C2","h":21.0,"v":-27.2},{"s":"C2","h":21.42,"v":-29.1},{"s":"C2","h":21.79,"v":-27.5},{"s":"C2","h":22.21,"v":-27.9},{"s":"C2","h":22.42,"v":-26.5},{"s":"C2","h":22.63,"v":-26.0},{"s":"C2","h":22.96,"v":-25.3},{"s":"C2","h":23.38,"v":-26.5},{"s":"C2","h":23.71,"v":-27.2},
{"s":"Y","h":0,"v":0},{"s":"Y","h":0.21,"v":0.9},{"s":"Y","h":0.38,"v":1.0},{"s":"Y","h":0.58,"v":0.7},{"s":"Y","h":0.88,"v":-0.1},{"s":"Y","h":1.21,"v":-0.9},{"s":"Y","h":1.5,"v":-0.6},{"s":"Y","h":1.71,"v":-0.1},{"s":"Y","h":1.96,"v":-1.3},{"s":"Y","h":2.33,"v":-1.9},{"s":"Y","h":2.63,"v":-2.3},{"s":"Y","h":2.96,"v":-2.8},{"s":"Y","h":3.29,"v":-4.1},{"s":"Y","h":3.67,"v":-5.0},{"s":"Y","h":4.0,"v":-6.3},{"s":"Y","h":4.33,"v":-7.8},{"s":"Y","h":4.75,"v":-7.2},{"s":"Y","h":5.13,"v":-8.2},{"s":"Y","h":5.46,"v":-9.2},{"s":"Y","h":5.88,"v":-10.4},{"s":"Y","h":6.17,"v":-11.1},{"s":"Y","h":6.5,"v":-11.9},{"s":"Y","h":6.71,"v":-12.6},{"s":"Y","h":7.0,"v":-11.9},{"s":"Y","h":7.33,"v":-12.6},{"s":"Y","h":7.67,"v":-12.9},{"s":"Y","h":7.96,"v":-12.9},{"s":"Y","h":8.25,"v":-14.0},{"s":"Y","h":8.5,"v":-15.1},{"s":"Y","h":8.79,"v":-13.8},{"s":"Y","h":9.08,"v":-14.0},{"s":"Y","h":9.29,"v":-12.6},{"s":"Y","h":9.5,"v":-11.0},{"s":"Y","h":9.92,"v":-11.4},{"s":"Y","h":10.17,"v":-11.6},{"s":"Y","h":10.46,"v":-12.9},{"s":"Y","h":11.0,"v":-13.6},{"s":"Y","h":11.42,"v":-14.8},{"s":"Y","h":11.79,"v":-16.2},{"s":"Y","h":12.0,"v":-15.8},{"s":"Y","h":12.42,"v":-16.7},{"s":"Y","h":12.96,"v":-18.9},{"s":"Y","h":13.25,"v":-18.7},{"s":"Y","h":13.46,"v":-14.5},{"s":"Y","h":13.79,"v":-15.2},{"s":"Y","h":14.21,"v":-16.2},{"s":"Y","h":14.75,"v":-18.0},{"s":"Y","h":15.33,"v":-18.1},{"s":"Y","h":15.75,"v":-18.7},{"s":"Y","h":15.96,"v":-19.9},{"s":"Y","h":16.21,"v":-18.1},{"s":"Y","h":16.42,"v":-18.9},{"s":"Y","h":16.83,"v":-18.9},{"s":"Y","h":17.13,"v":-17.7},{"s":"Y","h":17.46,"v":-14.8},{"s":"Y","h":17.83,"v":-15.5},{"s":"Y","h":18.38,"v":-15.7},{"s":"Y","h":18.5,"v":-14.8},{"s":"Y","h":18.92,"v":-16.0},{"s":"Y","h":19.21,"v":-14.3},{"s":"Y","h":19.5,"v":-14.8},{"s":"Y","h":19.92,"v":-14.8},{"s":"Y","h":20.25,"v":-16.0},{"s":"Y","h":20.46,"v":-14.8},{"s":"Y","h":20.75,"v":-15.2},{"s":"Y","h":21.17,"v":-16.0},{"s":"Y","h":21.58,"v":-16.7},{"s":"Y","h":22.0,"v":-18.1},{"s":"Y","h":22.25,"v":-19.2},{"s":"Y","h":22.67,"v":-19.5},{"s":"Y","h":23.17,"v":-19.9},{"s":"Y","h":23.29,"v":-20.5},{"s":"Y","h":23.5,"v":-20.0},{"s":"Y","h":23.71,"v":-19.8}
 ]
},
"layer": [
 {
  "data": {"name": "walks"},
  "mark": {"type": "line", "strokeWidth": 1, "clip": true},
  "encoding": {
   "x": {"field": "h", "type": "quantitative", "scale": {"domain": [0, 23.71], "nice": false, "zero": false},
         "axis": {"orient": "bottom", "values": [0,1,2,3,4,5,6,7,8,9,10,11,12,13,14,15,16,17,18,19,20,21,22,23], "tickSize": -4, "labelPadding": 10, "format": "d", "title": "Hour of Day", "titleY": 26, "titleBaseline": "middle"}},
   "y": {"field": "v", "type": "quantitative", "scale": {"domain": [-30, 30], "nice": false, "zero": false},
         "axis": {"orient": "left", "values": [-30,-20,-10,0,10,20,30], "tickSize": -4, "labelPadding": 12, "format": "d", "title": "Cumulative (Z*Z)-1", "titleX": -36, "titleY": 241, "titleAlign": "center", "titleBaseline": "middle", "titleAngle": -90}},
   "color": {"field": "s", "type": "nominal", "legend": null,
     "scale": {"domain": ["Y","C2","C1","S3","S1","D1","R2","M2","B2","G","M1","R1","B1"],
               "range": ["#ffff00","#55ffff","#55ffff","#5555ff","#5555ff","#aa0000","#ff0000","#ff55ff","#0000ff","#00aa00","#ff55ff","#ff0000","#0000ff"]}}
  }
 },
 {
  "data": {"name": "frame"},
  "mark": {"type": "point", "opacity": 0},
  "encoding": {
   "x": {"field": "h", "type": "quantitative", "axis": {"orient": "top", "values": [0,1,2,3,4,5,6,7,8,9,10,11,12,13,14,15,16,17,18,19,20,21,22,23], "tickSize": -4, "labels": false, "title": null}},
   "y": {"field": "v", "type": "quantitative", "axis": {"orient": "right", "values": [-30,-20,-10,0,10,20,30], "tickSize": -4, "labels": false, "title": null}}
  }
 }
],
"resolve": {"axis": {"x": "independent", "y": "independent"}}
}
